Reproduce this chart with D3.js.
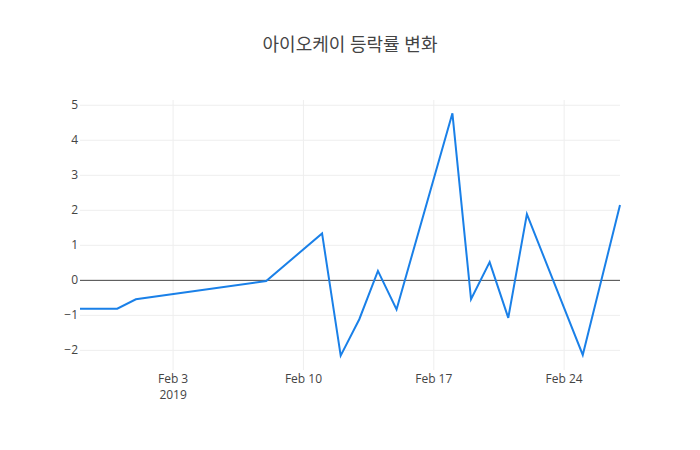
<!DOCTYPE html>
<html>
<head>
<meta charset="utf-8">
<script src="https://cdn.jsdelivr.net/npm/d3@7"></script>
<style>
  html, body { margin: 0; padding: 0; background: #fff; }
  svg { display: block; }
  text { font-family: "Open Sans", "Noto Sans CJK KR", sans-serif; fill: #444; }
</style>
</head>
<body>
<svg id="chart" width="700" height="450"></svg>
<script>
const dates = ["2019-01-29","2019-01-31","2019-02-01","2019-02-08","2019-02-11","2019-02-12","2019-02-13","2019-02-14","2019-02-15","2019-02-18","2019-02-19","2019-02-20","2019-02-21","2019-02-22","2019-02-25","2019-02-27"];
const values = [-0.81,-0.81,-0.54,-0.02,1.34,-2.15,-1.11,0.27,-0.83,4.77,-0.54,0.52,-1.07,1.89,-2.13,2.15];
const yTicks = [-2,-1,0,1,2,3,4,5];
const xTicks = ["2019-02-03","2019-02-10","2019-02-17","2019-02-24"];
const xTickLabels = ["Feb 3","Feb 10","Feb 17","Feb 24"];
const title = "아이오케이 등락률 변화";

const W = 700, H = 450, m = {l: 80, r: 80, t: 100, b: 80};
const parse = d3.utcParse("%Y-%m-%d");
const svg = d3.select("#chart");

const x = d3.scaleUtc().domain([parse(dates[0]), parse(dates[dates.length-1])]).range([m.l, W - m.r]);
const y = d3.scaleLinear().domain([-2.56, 5.15]).range([H - m.b, m.t]);

// grid
svg.append("g").selectAll("line").data(xTicks).join("line")
  .attr("x1", d => x(parse(d))).attr("x2", d => x(parse(d)))
  .attr("y1", m.t).attr("y2", H - m.b)
  .attr("stroke", "#eee").attr("stroke-width", 1);
svg.append("g").selectAll("line").data(yTicks.filter(v => v !== 0)).join("line")
  .attr("x1", m.l).attr("x2", W - m.r)
  .attr("y1", d => y(d)).attr("y2", d => y(d))
  .attr("stroke", "#eee").attr("stroke-width", 1);
// zero line
svg.append("line").attr("x1", m.l).attr("x2", W - m.r)
  .attr("y1", y(0)).attr("y2", y(0)).attr("stroke", "#444").attr("stroke-width", 1);

// y labels
svg.append("g").selectAll("text").data(yTicks).join("text")
  .attr("x", m.l - 2).attr("y", d => y(d) + 4)
  .attr("text-anchor", "end").attr("font-size", 12)
  .text(d => d < 0 ? "\u2212" + Math.abs(d) : d);

// x labels
const xl = svg.append("g");
xl.selectAll("text").data(xTicks).join("text")
  .attr("x", d => x(parse(d))).attr("y", 383)
  .attr("text-anchor", "middle").attr("font-size", 12)
  .text((d, i) => xTickLabels[i]);
xl.append("text").attr("x", x(parse(xTicks[0]))).attr("y", 399)
  .attr("text-anchor", "middle").attr("font-size", 12).text("2019");

// line
const data = dates.map((d, i) => ({d: parse(d), v: values[i]}));
svg.append("path").datum(data)
  .attr("fill", "none").attr("stroke", "#1a80e8").attr("stroke-width", 2)
  .attr("stroke-linejoin", "miter")
  .attr("d", d3.line().x(p => x(p.d)).y(p => y(p.v)));

// title
svg.append("text").attr("x", W / 2).attr("y", 51)
  .attr("text-anchor", "middle").attr("font-size", 18).text(title);
</script>
</body>
</html>
